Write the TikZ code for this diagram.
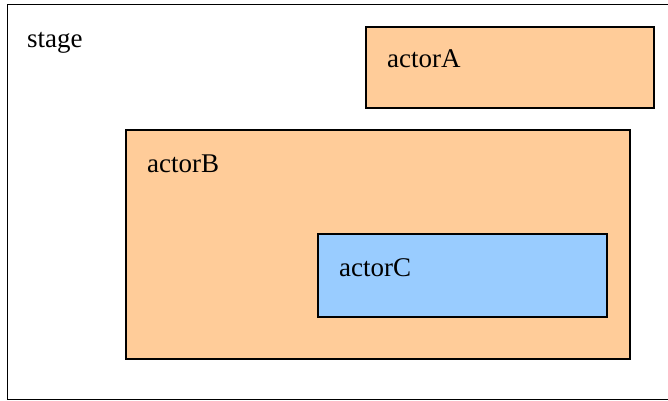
\documentclass[tikz,border=0pt]{standalone}
\usepackage{fontspec}
\newfontfamily\timesfont{Liberation Serif}
\definecolor{peach}{HTML}{FFCC99}
\definecolor{sky}{HTML}{99CCFF}
\begin{document}
\begin{tikzpicture}[x=1pt,y=-1pt,
  box/.style={draw=black,line width=1.2pt},
  lbl/.style={anchor=base west,inner sep=0pt,font=\timesfont\fontsize{27}{32}\selectfont}]
\useasboundingbox (0,0) rectangle (668,400);
\begin{scope}
\clip (0,0) rectangle (668,400);
\draw[box,fill=white] (7.5,4.5) rectangle (672,399.5);
\end{scope}
\draw[box,fill=peach] (366,27) rectangle (654,108);
\draw[box,fill=peach] (126,130) rectangle (630,359);
\draw[box,fill=sky] (318,234) rectangle (607,317);
\node[lbl] (stage) at (27,47) {stage};
\node[lbl] (a) at (387,67) {actorA};
\node[lbl] (b) at (147,172) {actorB};
\node[lbl] (c) at (339,276) {actorC};
\end{tikzpicture}
\end{document}
